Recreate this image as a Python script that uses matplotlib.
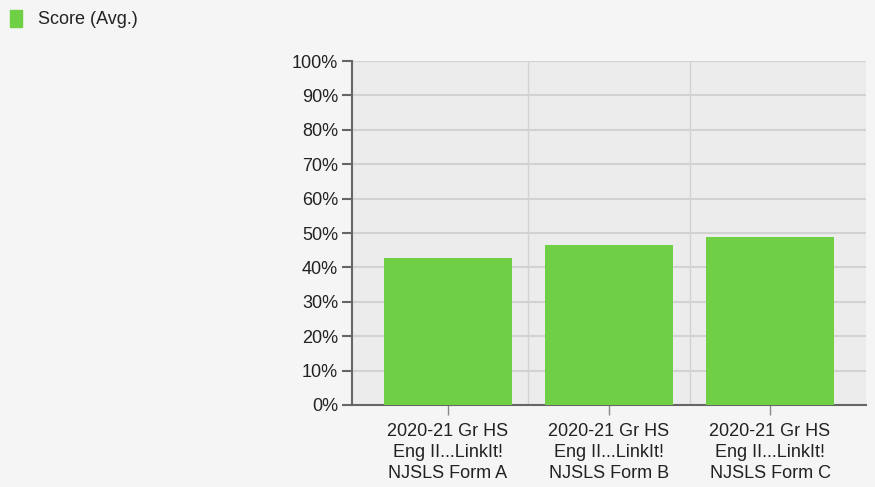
import matplotlib.pyplot as plt
from matplotlib.patches import Rectangle
from matplotlib.ticker import FuncFormatter

plt.rcParams['font.family'] = ['Liberation Sans', 'DejaVu Sans']

categories = [
    "2020-21 Gr HS\nEng II...LinkIt!\nNJSLS Form A",
    "2020-21 Gr HS\nEng II...LinkIt!\nNJSLS Form B",
    "2020-21 Gr HS\nEng II...LinkIt!\nNJSLS Form C",
]
scores = [42.7, 46.5, 48.8]
series_name = "Score (Avg.)"
y_ticks = list(range(0, 101, 10))

bar_color = "#6fcf45"
fs = 13
fig = plt.figure(figsize=(8.75, 4.87), dpi=100, facecolor="#f5f5f5")
ax = fig.add_axes([0.4023, 0.1684, 0.5874, 0.7063])
ax.set_facecolor("#ececec")

x = list(range(len(categories)))
ax.bar(x, scores, width=0.795, color=bar_color, zorder=3)

ax.set_xlim(-0.596, len(categories) - 1 + 0.596)
ax.set_ylim(0, 100)
ax.set_yticks(y_ticks)
ax.yaxis.set_major_formatter(FuncFormatter(lambda v, p: f"{int(v)}%"))
ax.set_xticks(x)
ax.set_xticklabels(categories, fontsize=fs, color="#222222", linespacing=1.3)
ax.tick_params(axis="y", labelsize=fs, labelcolor="#222222", length=7, width=1.5, color="#666666", pad=3)
ax.tick_params(axis="x", length=7, width=1, color="#888888", pad=6)

# horizontal grid + category separators
ax.grid(axis="y", color="#d2d2d2", linewidth=1.5, zorder=1)
for b in [i + 0.5 for i in x[:-1]]:
    ax.axvline(b, color="#d2d2d2", linewidth=1, zorder=1)

for s in ["top", "right"]:
    ax.spines[s].set_visible(False)
ax.spines["left"].set_color("#666666")
ax.spines["left"].set_linewidth(1.5)
ax.spines["bottom"].set_color("#666666")
ax.spines["bottom"].set_linewidth(1.5)

# legend in the top-left corner
fig.patches.append(Rectangle((10 / 875, 1 - 27 / 487), 12 / 875, 17 / 487,
                             transform=fig.transFigure, color=bar_color))
fig.text(38 / 875, 1 - 19 / 487, series_name, fontsize=fs, color="#222222", va="center")

fig.savefig("out.png", dpi=100, facecolor=fig.get_facecolor())
